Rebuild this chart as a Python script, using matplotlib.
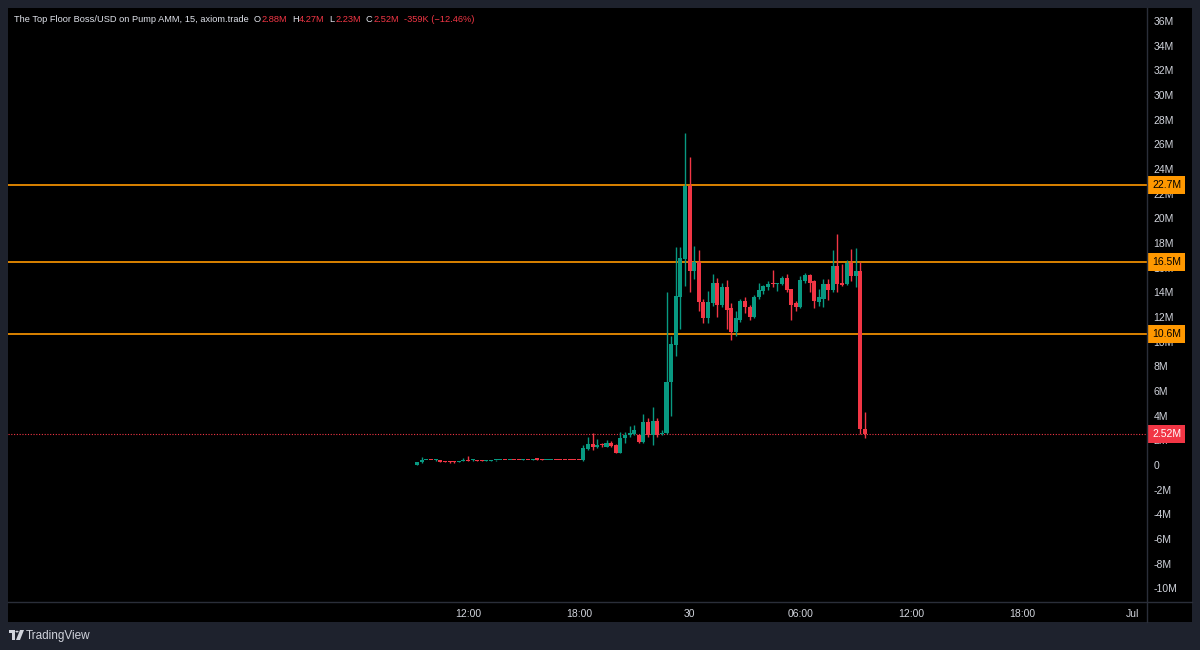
#!/usr/bin/env python3
"""
The Top Floor Boss/USD 15分钟K线 (TradingView 风格复刻)
"""

import numpy as np
import pandas as pd
import matplotlib
matplotlib.use('Agg')
import matplotlib.pyplot as plt
import matplotlib.dates as mdates
from matplotlib.patches import Rectangle, Polygon, Circle
from matplotlib.lines import Line2D

plt.rcParams['font.family'] = ['Liberation Sans', 'DejaVu Sans']

# ---- 数据 (单位: 百万美元) ----
start_time = '2025-06-29 09:15'
opens = [0.03, 0.22, 0.40, 0.42, 0.38, 0.42, 0.30, 0.28, 0.27, 0.25,
         0.33, 0.42, 0.37, 0.42, 0.40, 0.33, 0.35, 0.38, 0.40, 0.42,
         0.40, 0.42, 0.41, 0.40, 0.42, 0.43, 0.46, 0.44, 0.40, 0.40,
         0.42, 0.41, 0.41, 0.41, 0.41, 0.41, 0.40, 1.30, 1.70, 1.45,
         1.70, 1.45, 1.80, 1.62, 1.00, 2.20, 2.40, 2.50, 2.43, 1.90,
         3.50, 2.40, 3.60, 2.50, 2.60, 6.70, 9.70, 13.6, 16.7, 22.6,
         15.7, 16.5, 13.2, 11.9, 13.1, 14.8, 13.0, 14.4, 12.7, 10.8,
         11.8, 13.3, 12.8, 12.0, 13.6, 14.1, 14.4, 14.75, 14.65, 14.7,
         15.2, 14.3, 13.1, 12.8, 14.9, 15.4, 14.9, 13.2, 13.5, 14.7,
         14.2, 16.1, 14.8, 14.7, 16.4, 15.3, 15.7, 2.88]
highs = [0.25, 0.65, 0.43, 0.44, 0.52, 0.44, 0.32, 0.30, 0.30, 0.32,
         0.60, 0.70, 0.45, 0.44, 0.42, 0.42, 0.42, 0.44, 0.44, 0.44,
         0.44, 0.44, 0.43, 0.45, 0.44, 0.48, 0.48, 0.46, 0.44, 0.44,
         0.44, 0.43, 0.43, 0.43, 0.43, 0.43, 1.60, 2.30, 2.60, 2.10,
         1.80, 2.00, 1.95, 1.70, 2.70, 2.70, 3.20, 3.25, 2.50, 4.10,
         3.80, 4.70, 3.80, 2.80, 14.0, 10.5, 17.7, 17.7, 26.9, 25.0,
         17.8, 17.4, 13.5, 14.1, 15.5, 15.2, 14.8, 15.0, 13.1, 12.5,
         13.5, 13.6, 13.0, 13.8, 14.8, 14.6, 14.9, 15.8, 14.8, 15.3,
         15.5, 14.3, 13.3, 15.3, 15.6, 15.5, 15.0, 14.3, 15.1, 15.1,
         17.4, 18.7, 16.3, 16.6, 17.5, 17.6, 16.5, 4.27]
lows = [0.00, 0.20, 0.38, 0.38, 0.36, 0.26, 0.23, 0.20, 0.20, 0.23,
        0.31, 0.30, 0.35, 0.32, 0.30, 0.31, 0.33, 0.36, 0.38, 0.38,
        0.38, 0.38, 0.37, 0.38, 0.38, 0.41, 0.42, 0.39, 0.38, 0.38,
        0.38, 0.37, 0.37, 0.38, 0.37, 0.38, 0.35, 1.20, 1.20, 1.40,
        1.45, 1.45, 1.50, 0.95, 0.95, 1.80, 2.30, 2.40, 1.80, 1.80,
        2.30, 1.60, 2.30, 2.40, 2.50, 4.00, 8.80, 11.0, 14.5, 14.0,
        15.1, 12.5, 11.5, 11.5, 12.9, 12.0, 12.8, 11.0, 10.1, 10.5,
        11.6, 12.3, 11.8, 11.9, 13.5, 13.9, 14.2, 14.4, 14.1, 14.6,
        14.0, 11.8, 12.5, 12.7, 14.8, 14.0, 12.7, 12.9, 12.8, 13.4,
        14.0, 14.0, 14.5, 14.6, 14.9, 14.4, 2.50, 2.23]
closes = [0.25, 0.42, 0.42, 0.40, 0.44, 0.28, 0.25, 0.22, 0.22, 0.30,
          0.42, 0.32, 0.43, 0.34, 0.32, 0.40, 0.40, 0.42, 0.42, 0.40,
          0.42, 0.40, 0.39, 0.43, 0.40, 0.46, 0.44, 0.41, 0.42, 0.42,
          0.40, 0.39, 0.39, 0.40, 0.39, 0.40, 1.38, 1.70, 1.46, 1.60,
          1.65, 1.80, 1.55, 1.00, 2.20, 2.45, 2.60, 2.80, 1.87, 3.50,
          2.40, 3.60, 2.40, 2.60, 6.70, 9.80, 13.7, 16.8, 22.6, 15.7,
          16.5, 13.2, 11.9, 13.2, 14.8, 13.0, 14.4, 12.6, 10.8, 11.9,
          13.3, 12.8, 12.0, 13.6, 14.2, 14.5, 14.7, 14.65, 14.75, 15.2,
          14.2, 13.0, 12.8, 15.0, 15.4, 14.8, 13.3, 13.6, 14.7, 14.2,
          16.1, 14.7, 14.6, 16.4, 15.3, 15.7, 2.88, 2.52]

level_lines = [22.7, 16.5, 10.6]
last_price = 2.52
y_ticks = list(range(-10, 38, 2))
x_tick_times = ['2025-06-29 12:00', '2025-06-29 18:00', '2025-06-30 00:00',
                '2025-06-30 06:00', '2025-06-30 12:00', '2025-06-30 18:00',
                '2025-07-01 00:00']
x_tick_labels = ['12:00', '18:00', '30', '06:00', '12:00', '18:00', 'Jul']
header_title = 'The Top Floor Boss/USD on Pump AMM, 15, axiom.trade'
header_ohlc = [('O', '2.88M'), ('H', '4.27M'), ('L', '2.23M'), ('C', '2.52M')]
header_change = '-359K (\u221212.46%)'

# ---- 颜色 ----
UP = '#089981'
DOWN = '#f23645'
ORANGE = '#ff9800'
BG_OUT = '#1e222d'
SEP = '#2a2e39'
TXT = '#d1d4dc'

W, H = 1200, 650


def fx(px):
    return px / W


def fy(py):
    return 1 - py / H


def main():
    fig = plt.figure(figsize=(12, 6.5), dpi=100, facecolor=BG_OUT)

    # 黑色主面板 (放在最底层)
    fig.patches.append(Rectangle((fx(8), fy(622)), fx(1184), 614 / H,
                                 transform=fig.transFigure, facecolor='black',
                                 edgecolor='none', zorder=-10))

    ax = fig.add_axes([fx(8), fy(602), fx(1139), 594 / H])
    ax.set_facecolor('black')
    ax.set_zorder(1)
    for s in ax.spines.values():
        s.set_visible(False)

    times = mdates.date2num(pd.date_range(start_time, periods=len(opens), freq='15min'))
    bar_w = 0.25 / 24 * 0.88

    o = np.array(opens)
    c = np.array(closes)
    hi = np.array(highs)
    lo = np.array(lows)
    up = c >= o
    colors = np.where(up, UP, DOWN)

    ax.vlines(times, lo, hi, colors=colors, linewidth=1.0, zorder=3)
    body_h = np.maximum(np.abs(c - o), 0.09)
    ax.bar(times, body_h, bottom=np.minimum(o, c), width=bar_w, color=colors,
           edgecolor='none', zorder=4)

    # 水平线及右侧价格标签
    lab_x = 1.0 + 5.0 / 1139
    for lv in level_lines:
        ax.axhline(lv, color=ORANGE, linewidth=1.2, zorder=2)
        ax.text(lab_x, lv, f'{lv}M', transform=ax.get_yaxis_transform(),
                ha='left', va='center', fontsize=7.5, color='black', clip_on=False,
                bbox=dict(boxstyle='square,pad=0.38', facecolor=ORANGE, edgecolor='none'),
                zorder=10)
    ax.axhline(last_price, color=DOWN, linewidth=0.8, linestyle=(0, (1, 1.5)), zorder=2)
    ax.text(lab_x, last_price, f'{last_price}M', transform=ax.get_yaxis_transform(),
            ha='left', va='center', fontsize=7.5, color='white', clip_on=False,
            bbox=dict(boxstyle='square,pad=0.38', facecolor=DOWN, edgecolor='none'),
            zorder=10)

    # 坐标范围
    t12 = mdates.date2num(pd.Timestamp('2025-06-29 12:00'))
    px_per_day = 110.8 * 4
    ax.set_xlim(t12 - 460 / px_per_day, t12 + 679 / px_per_day)
    ax.set_ylim(-(602 - 465) / 12.33, (465 - 8) / 12.33)

    # 纵轴
    ax.yaxis.tick_right()
    ax.set_yticks(y_ticks)
    ax.set_yticklabels(['0' if v == 0 else f'{v}M' for v in y_ticks])
    ax.tick_params(axis='y', length=0, pad=4.5, labelsize=7.5, labelcolor=TXT)

    # 横轴
    ax.set_xticks(mdates.date2num(pd.to_datetime(x_tick_times)))
    ax.set_xticklabels(x_tick_labels)
    ax.tick_params(axis='x', length=0, pad=5, labelsize=7.5, labelcolor=TXT)

    # 分隔线
    fig.lines.append(Line2D([fx(1147), fx(1147)], [fy(8), fy(622)],
                            transform=fig.transFigure, color=SEP, linewidth=1, zorder=5))
    fig.lines.append(Line2D([fx(8), fx(1192)], [fy(602), fy(602)],
                            transform=fig.transFigure, color=SEP, linewidth=1, zorder=5))

    # 标题栏
    renderer = fig.canvas.get_renderer()
    x = fx(14)
    y = fy(19)

    def put(s, col, gap=0.0):
        nonlocal x
        t = fig.text(x, y, s, color=col, fontsize=6.7, ha='left', va='center', zorder=6)
        bb = t.get_window_extent(renderer)
        x = bb.x1 / W + gap

    put(header_title, '#e0e3eb', fx(5))
    for k, v in header_ohlc:
        put(k, '#e0e3eb', fx(0.5))
        put(v, DOWN, fx(5))
    put(header_change, DOWN)

    # TradingView 标志
    logo_col = '#d1d4dc'
    fig.patches.append(Polygon([(fx(9), fy(630)), (fx(15), fy(630)), (fx(15), fy(640)),
                                (fx(12), fy(640)), (fx(12), fy(633)), (fx(9), fy(633))],
                               closed=True, transform=fig.transFigure, facecolor=logo_col,
                               edgecolor='none'))
    fig.patches.append(Circle((fx(17), fy(631.6)), 1.6 / W, transform=fig.transFigure,
                              facecolor=logo_col, edgecolor='none'))
    fig.patches.append(Polygon([(fx(20), fy(630)), (fx(24), fy(630)), (fx(20), fy(640)),
                                (fx(16), fy(640))],
                               closed=True, transform=fig.transFigure, facecolor=logo_col,
                               edgecolor='none'))
    fig.text(fx(26), fy(636), 'TradingView', color=logo_col, fontsize=8.5,
             ha='left', va='center')

    fig.savefig('out.png', dpi=100, facecolor=BG_OUT)
    plt.close(fig)


if __name__ == '__main__':
    main()
